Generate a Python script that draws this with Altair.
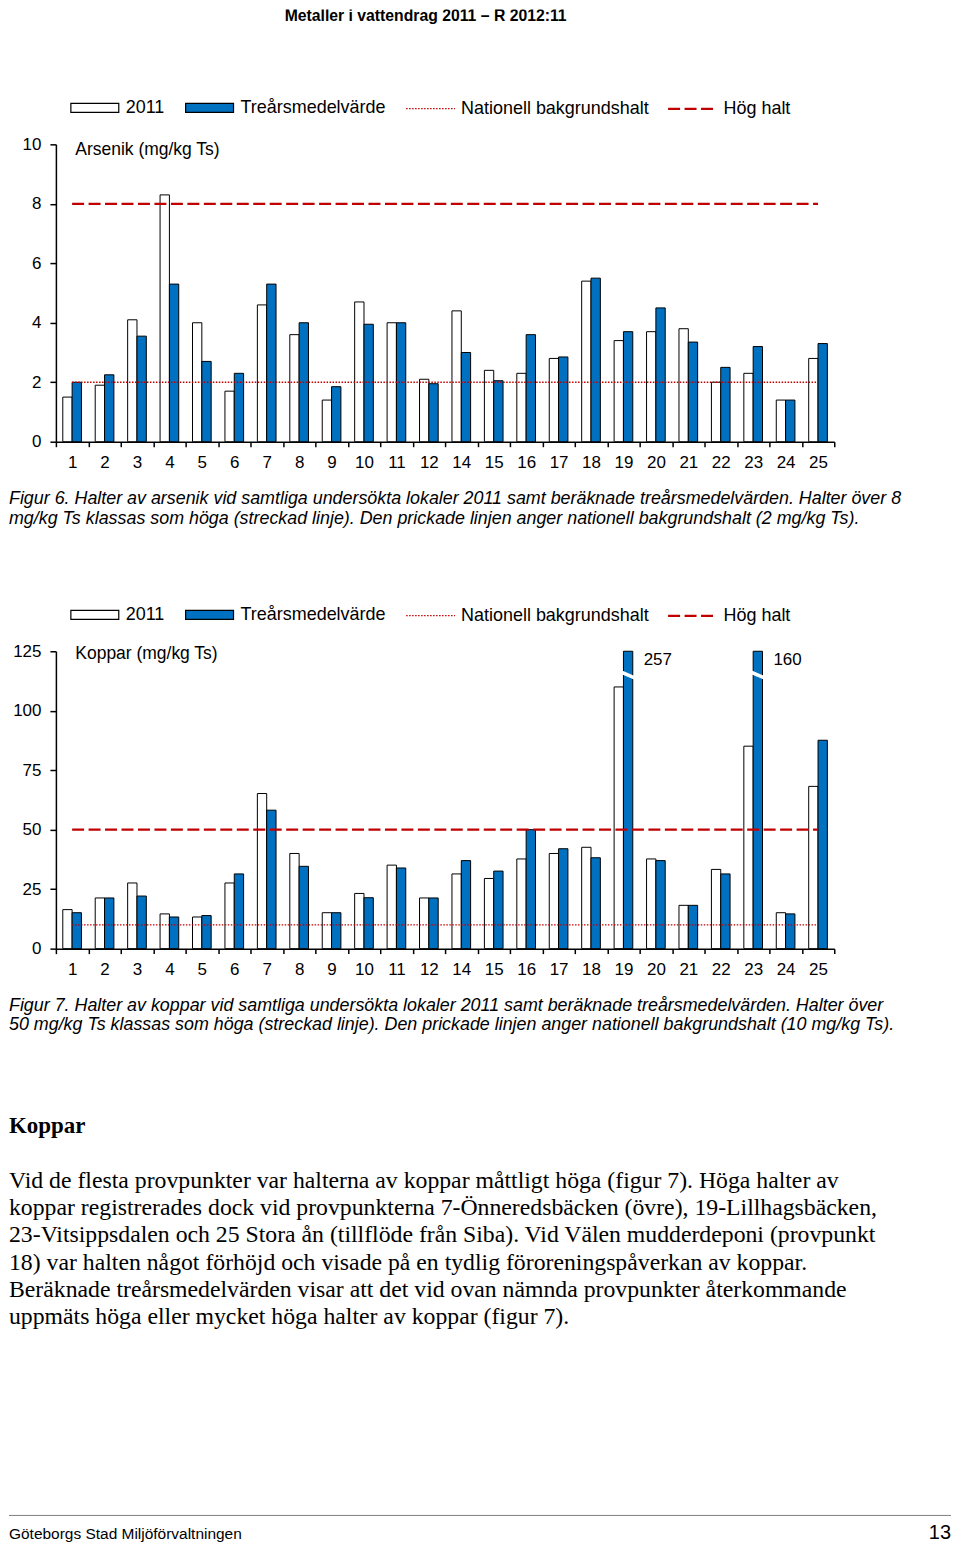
import altair as alt
import pandas as pd

# ---------------- data ----------------
cats = ["1", "2", "3", "4", "5", "6", "7", "8", "9", "10", "11", "12",
        "14", "15", "16", "17", "18", "19", "20", "21", "22", "23", "24", "25"]
series = ["2011", "Treårsmedelvärde"]
ref_names = ["Nationell bakgrundshalt", "Hög halt"]

as_2011 = [1.5, 1.9, 4.1, 8.3, 4.0, 1.7, 4.6, 3.6, 1.4, 4.7, 4.0, 2.1,
           4.4, 2.4, 2.3, 2.8, 5.4, 3.4, 3.7, 3.8, 2.0, 2.3, 1.4, 2.8]
as_mean = [2.0, 2.25, 3.55, 5.3, 2.7, 2.3, 5.3, 4.0, 1.85, 3.95, 4.0, 1.95,
           3.0, 2.05, 3.6, 2.85, 5.5, 3.7, 4.5, 3.35, 2.5, 3.2, 1.4, 3.3]
as_refs = [2, 8]
as_ticks = [0, 2, 4, 6, 8, 10]

cu_2011 = [16.4, 21.3, 27.6, 14.6, 13.3, 27.6, 65.2, 40.0, 15.1, 23.2, 35.1, 21.3,
           31.4, 29.5, 37.7, 40.0, 42.6, 110.0, 37.7, 18.2, 33.3, 85.1, 15.1, 68.2]
cu_mean = [15.1, 21.3, 22.1, 13.3, 13.9, 31.4, 58.2, 34.6, 15.1, 21.4, 33.9, 21.3,
           37.0, 32.6, 50.0, 42.0, 38.2, 257, 37.0, 18.2, 31.4, 160, 14.6, 87.6]
cu_refs = [10, 50]
cu_ticks = [0, 25, 50, 75, 100, 125]

header = "Metaller i vattendrag 2011 – R 2012:11"
caption1 = ["Figur 6. Halter av arsenik vid samtliga undersökta lokaler 2011 samt beräknade treårsmedelvärden. Halter över 8",
            "mg/kg Ts klassas som höga (streckad linje). Den prickade linjen anger nationell bakgrundshalt (2 mg/kg Ts)."]
caption2 = ["Figur 7. Halter av koppar vid samtliga undersökta lokaler 2011 samt beräknade treårsmedelvärden. Halter över",
            "50 mg/kg Ts klassas som höga (streckad linje). Den prickade linjen anger nationell bakgrundshalt (10 mg/kg Ts)."]
heading = "Koppar"
body = [
    "Vid de flesta provpunkter var halterna av koppar måttligt höga (figur 7). Höga halter av",
    "koppar registrerades dock vid provpunkterna 7-Önneredsbäcken (övre), 19-Lillhagsbäcken,",
    "23-Vitsippsdalen och 25 Stora ån (tillflöde från Siba). Vid Välen mudderdeponi (provpunkt",
    "18) var halten något förhöjd och visade på en tydlig föroreningspåverkan av koppar.",
    "Beräknade treårsmedelvärden visar att det vid ovan nämnda provpunkter återkommande",
    "uppmäts höga eller mycket höga halter av koppar (figur 7).",
]
footer_left = "Göteborgs Stad Miljöförvaltningen"
footer_right = "13"

# ---------------- styles ----------------
SANS = "Liberation Sans, Arial, sans-serif"
SERIF = "Liberation Serif, Times New Roman, serif"
BLUE = "#0070C0"
RED = "#C00000"
W = 944
BREAK_PATH = "M-1,-0.75L1,0.1L1,0.75L-1,-0.1Z"
BAR_LEGEND_PATH = "M-1,-0.19H1V0.19H-1Z"

dummy = pd.DataFrame({"d": [0]})


def txt(text, x, y, size, font=SANS, style="normal", weight="normal",
        align="left", baseline="middle", color="black", clip=False):
    return alt.Chart(dummy).mark_text(
        font=font, fontSize=size, fontStyle=style, fontWeight=weight,
        align=align, baseline=baseline, color=color, clip=clip
    ).encode(x=alt.value(x), y=alt.value(y), text=alt.value(text))


def bar_chart(v2011, vmean, refs, ymax, yticks, title, title_y, height):
    n = len(cats)
    bars_df = pd.DataFrame({
        "cat": cats * 2,
        "serie": [series[0]] * n + [series[1]] * n,
        "value": v2011 + vmean,
    })
    lines_df = pd.DataFrame({
        "cat": cats * 2,
        "ref": [ref_names[0]] * n + [ref_names[1]] * n,
        "value": [refs[0]] * n + [refs[1]] * n,
    })
    x = alt.X("cat:N", sort=cats,
              scale=alt.Scale(domain=cats, range=[47, 827], paddingInner=0, paddingOuter=0),
              axis=alt.Axis(title=None, labelAngle=0, tickBand="extent", tickSize=5,
                            tickWidth=1.5, tickColor="black", domainColor="black",
                            domainWidth=1.5, labelFont=SANS, labelFontSize=17,
                            labelColor="black", labelPadding=8, grid=False))
    xoff = alt.XOffset("serie:N", sort=series,
                       scale=alt.Scale(domain=series, paddingInner=0, paddingOuter=0.738))
    y = alt.Y("value:Q",
              scale=alt.Scale(domain=[0, ymax], nice=False, clamp=True),
              axis=alt.Axis(values=yticks, title=title, titleAngle=0, titleAlign="left",
                            titleBaseline="middle", titleX=19, titleY=title_y,
                            titleFont=SANS, titleFontSize=17.5, titleFontWeight="normal",
                            titleColor="black", offset=-47, tickSize=6, tickWidth=1.5,
                            tickColor="black", domainColor="black", domainWidth=1.5,
                            labelFont=SANS, labelFontSize=17, labelColor="black",
                            labelPadding=9, grid=False))
    bars = alt.Chart(bars_df).mark_bar(stroke="black", strokeWidth=1).encode(
        x=x, xOffset=xoff, y=y,
        fill=alt.Fill("serie:N", sort=series,
                      scale=alt.Scale(domain=series, range=["white", BLUE]),
                      legend=alt.Legend(title=None, orient="none", legendX=61, legendY=-61.5,
                                        direction="horizontal", symbolType=BAR_LEGEND_PATH,
                                        symbolSize=2304, symbolStrokeColor="black",
                                        symbolStrokeWidth=1.2, labelFont=SANS,
                                        labelFontSize=18, labelColor="black",
                                        labelOffset=6, columnPadding=18, padding=0,
                                        labelLimit=400)),
    )
    lines = alt.Chart(lines_df).mark_line(color=RED).encode(
        x=x, y=y,
        strokeDash=alt.StrokeDash("ref:N", sort=ref_names,
                                  scale=alt.Scale(domain=ref_names, range=[[1.5, 1.5], [12, 4.5]]),
                                  legend=alt.Legend(title=None, orient="none", legendX=397,
                                                    legendY=-61.5, direction="horizontal",
                                                    symbolType="stroke", symbolSize=2401,
                                                    symbolStrokeColor=RED, symbolStrokeWidth=1.8,
                                                    labelFont=SANS, labelFontSize=18,
                                                    labelColor="black", labelOffset=5,
                                                    columnPadding=14, padding=0, labelLimit=400)),
        strokeWidth=alt.StrokeWidth("ref:N", sort=ref_names,
                                    scale=alt.Scale(domain=ref_names, range=[1.3, 2.2]),
                                    legend=None),
    )
    layers = [bars, lines]
    over = [(c, v) for c, v in zip(cats, vmean) if v > ymax]
    if over:
        br_df = pd.DataFrame({"cat": [c for c, _ in over],
                              "serie": [series[1]] * len(over),
                              "label": [str(v) for _, v in over]})
        breaks = alt.Chart(br_df).mark_point(
            shape=BREAK_PATH, size=144, filled=True, fill="white", strokeWidth=0, opacity=1
        ).encode(x=x, xOffset=xoff, y=alt.datum(115))
        labels = alt.Chart(br_df).mark_text(
            align="left", baseline="middle", dx=15.6, font=SANS, fontSize=17, color="black"
        ).encode(x=x, xOffset=xoff, y=alt.datum(121.5), text="label:N")
        layers += [breaks, labels]
    return alt.layer(*layers).properties(width=W, height=height)


# ---------------- panels ----------------
p_head = txt(header, 417.5, 11.5, 15.8, weight="bold", align="center",
             baseline="alphabetic", clip=True).properties(width=W, height=135)

p_as = bar_chart(as_2011, as_mean, as_refs, 10, as_ticks, "Arsenik (mg/kg Ts)", 5, 298)

p_mid = alt.layer(
    txt(caption1[0], 0, 57, 17.9, style="italic"),
    txt(caption1[1], 0, 77, 17.9, style="italic"),
).properties(width=W, height=210)

p_cu = bar_chart(cu_2011, cu_mean, cu_refs, 125, cu_ticks, "Koppar (mg/kg Ts)", 2.5, 298)

bottom_layers = [
    txt(caption2[0], 0, 57, 17.9, style="italic"),
    txt(caption2[1], 0, 77, 17.9, style="italic"),
    txt(heading, 0, 178, 23, font=SERIF, weight="bold"),
]
for i, line in enumerate(body):
    bottom_layers.append(txt(line, 0, 233 + 27.2 * i, 23.8, font=SERIF))
bottom_layers.append(
    alt.Chart(dummy).mark_rule(color="#808080", strokeWidth=1).encode(
        x=alt.value(0), x2=alt.value(W), y=alt.value(568))
)
bottom_layers.append(txt(footer_left, 0, 592, 15.5, baseline="alphabetic", clip=True))
bottom_layers.append(txt(footer_right, W, 592, 20, align="right", baseline="alphabetic", clip=True))
p_bottom = alt.layer(*bottom_layers).properties(width=W, height=596)

chart = alt.vconcat(p_head, p_as, p_mid, p_cu, p_bottom, spacing=0, bounds="flush").resolve_scale(
    x="independent", y="independent", fill="independent", strokeDash="independent",
    strokeWidth="independent", xOffset="independent"
).resolve_legend(fill="independent", strokeDash="independent").configure_view(
    stroke=None
).properties(padding=0, background="white")

chart.save("out.html", embed_options={"renderer": "svg", "actions": False})
